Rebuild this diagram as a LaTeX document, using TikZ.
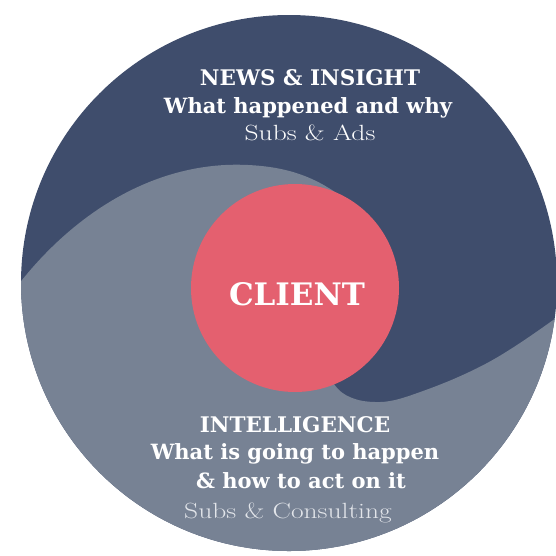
\documentclass[tikz,border=0pt]{standalone}
\usepackage{fontspec}
\usepackage{graphicx}
\newfontfamily\slab{DejaVu Serif}
\newcommand{\widetext}[1]{\scalebox{1.25}[1]{#1}}
\definecolor{navy}{HTML}{3F4D6C}
\definecolor{slate}{HTML}{778294}
\definecolor{coral}{HTML}{E4606F}
\definecolor{pale}{HTML}{E2E5EA}
\begin{document}
\begin{tikzpicture}[x=1pt,y=-1pt,
  heading/.style={text=white,anchor=base,inner sep=0pt,font=\slab\bfseries\fontsize{21.5}{25}\selectfont},
  subhead/.style={text=white,anchor=base,inner sep=0pt,font=\slab\bfseries\fontsize{21}{25}\selectfont},
  revenue/.style={text=white,anchor=base,inner sep=0pt,font=\fontsize{22}{26}\selectfont},
  hub/.style={circle,fill=coral,minimum size=208pt,inner sep=0pt}]
\useasboundingbox (0,0) rectangle (556,555);
\fill[white] (0,0) rectangle (556,555);
\begin{scope}
  \clip (0,0) rectangle (556,555);
  \clip (289,283) circle[radius=268];
  \fill[navy] (-10,-10) rectangle (600,600);
  \fill[slate] (-10,320) -- (0,310)
    .. controls (60,220) and (150,160) .. (248,165)
    .. controls (290,167) and (320,178) .. (352,205)
    -- (322,365)
    -- plot[smooth,tension=0.6] coordinates {(322,365) (338,389) (355,399) (375,402) (395,400) (423,391) (456,378) (489,362) (520,343) (556,318) (580,300)}
    -- (600,600) -- (-10,600) -- cycle;
\end{scope}
\node[hub] (client) at (295,288) {};
\node[text=white,anchor=base,inner sep=0pt,font=\slab\bfseries\fontsize{31}{36}\selectfont] (clientlabel) at (297,305) {CLIENT};
\node[heading] (news) at (310,85) {NEWS \& INSIGHT};
\node[subhead] (newsq) at (308,113) {What happened and why};
\node[revenue] (newsrev) at (310,140) {\widetext{Subs \& Ads}};
\node[heading] (intel) at (295,432) {INTELLIGENCE};
\node[subhead] (intq1) at (295,459) {What is going to happen};
\node[subhead] (intq2) at (301,488) {\& how to act on it};
\node[revenue,text=pale] (intrev) at (288,518) {\widetext{Subs \& Consulting}};
\end{tikzpicture}
\end{document}
